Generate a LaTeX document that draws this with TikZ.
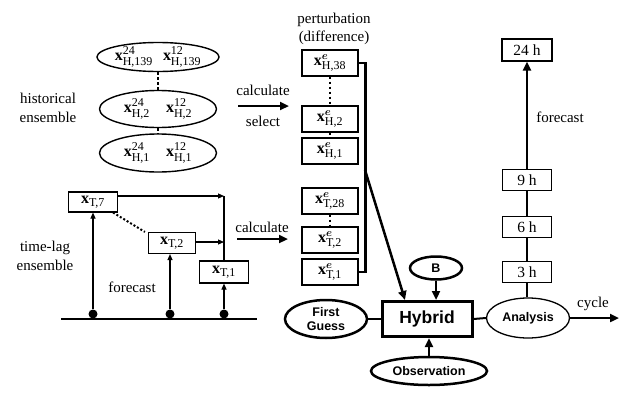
\documentclass[tikz,border=0pt]{standalone}
\usepackage{amsmath,bm}
\usepackage{fontspec}
\setmainfont{Liberation Serif}
\newfontfamily\arialfont{Liberation Sans}
\usetikzlibrary{arrows.meta,shapes.geometric}
\newcommand{\subtx}[1]{\text{\fontsize{12}{12}\selectfont #1}}
\begin{document}
\begin{tikzpicture}[x=1pt,y=-1pt,
  lbl/.style={font=\fontsize{15}{18.5}\selectfont, align=center, inner sep=0pt},
  tbox/.style={draw, line width=1.1pt, minimum width=49pt, minimum height=21pt, inner sep=0pt, font=\fontsize{16}{18}\selectfont},
  pbox/.style={draw, line width=1.1pt, minimum width=56pt, minimum height=26pt, inner sep=0pt, font=\fontsize{16}{18}\selectfont},
  fbox/.style={draw, line width=1.1pt, minimum width=49pt, minimum height=21pt, inner sep=0pt, font=\fontsize{15.5}{17}\selectfont},
  hell/.style={ellipse, draw, line width=1.4pt, minimum width=117pt, inner sep=0pt, font=\fontsize{16}{18}\selectfont},
  sell/.style={ellipse, draw, line width=2.5pt, inner sep=0pt, font=\arialfont\bfseries\fontsize{12.5}{15}\selectfont, align=center},
  dotline/.style={line width=2.5pt, dash pattern=on 2.5pt off 2.5pt},
  bigarrow/.style={line width=2.5pt, -{Triangle[length=9pt,width=8pt]}},
  thinarrow/.style={line width=1.1pt, -{Triangle[length=6pt,width=5pt]}},
  gdot/.style={circle, fill, minimum size=9pt, inner sep=0pt}
]
\fill[white] (0,0) rectangle (630,394);
\useasboundingbox (0,0) rectangle (630,394);

% historical ensemble
\node[hell, minimum height=29pt] (h139) at (158,57) {$\mathbf{x}^{\subtx{24}}_{\subtx{H,139}}\hspace{10pt}\mathbf{x}^{\subtx{12}}_{\subtx{H,139}}$};
\node[hell, minimum height=37pt] (h2) at (158,109) {$\mathbf{x}^{\subtx{24}}_{\subtx{H,2}}\hspace{16pt}\mathbf{x}^{\subtx{12}}_{\subtx{H,2}}$};
\node[hell, minimum height=38pt] (h1) at (158,153) {$\mathbf{x}^{\subtx{24}}_{\subtx{H,1}}\hspace{16pt}\mathbf{x}^{\subtx{12}}_{\subtx{H,1}}$};
\draw[dotline] (h139.south) -- (h2.north);
\draw[dotline] (h2.south) -- (h1.north);
\node[lbl] (histlbl) at (48,108) {historical\\ensemble};

\node[lbl] (calc1) at (263,90) {calculate};
\node[lbl] (sel) at (263,121) {select};
\coordinate (c1a) at (238,106);
\coordinate (c1b) at (289,106);
\draw[bigarrow] (c1a) -- (c1b);

% perturbation column
\node[lbl] (pertlbl) at (334,29) {perturbation\\(difference)};
\node[pbox] (H38) at (330,63) {$\mathbf{x}^{\bm{e}}_{\subtx{H,38}}$};
\node[pbox] (H2) at (330,119) {$\mathbf{x}^{\bm{e}}_{\subtx{H,2}}$};
\node[pbox] (H1) at (330,151) {$\mathbf{x}^{\bm{e}}_{\subtx{H,1}}$};
\node[pbox] (T28) at (330,201) {$\mathbf{x}^{\bm{e}}_{\subtx{T,28}}$};
\node[pbox] (T2e) at (330,240) {$\mathbf{x}^{\bm{e}}_{\subtx{T,2}}$};
\node[pbox] (T1e) at (330,272) {$\mathbf{x}^{\bm{e}}_{\subtx{T,1}}$};
\draw[dotline] (H38.south) -- (H2.north);
\draw[dotline] (H2.south) -- (H1.north);
\draw[dotline] (T28.south) -- (T2e.north);
\draw[line width=2.5pt] (H38.east) -- ++(7,0) |- (T1e.east);

% time-lag ensemble
\node[tbox, minimum height=20pt] (T7) at (93,202) {$\mathbf{x}_{\subtx{T,7}}$};
\node[tbox, minimum width=47pt] (T2) at (172,243) {$\mathbf{x}_{\subtx{T,2}}$};
\node[tbox, minimum height=22pt] (T1) at (224,272) {$\mathbf{x}_{\subtx{T,1}}$};
\coordinate (vtop) at (224,196);
\coordinate (vmid) at (224,242);
\draw[line width=1.1pt] (vtop) -- (T1.north);
\draw[thinarrow] ([yshift=6pt]T7.east) -- (vtop);
\draw[thinarrow] ([yshift=1pt]T2.east) -- (vmid);
\draw[line width=2pt, dash pattern=on 2pt off 2pt] ([xshift=-5pt]T7.south east) -- ([xshift=-3pt]T2.north west);
\coordinate (g1) at (61,319);
\coordinate (g2) at (257,319);
\draw[line width=1.3pt] (g1) -- (g2);
\node[gdot] (d1) at (93,314) {};
\node[gdot] (d2) at (170,314) {};
\node[gdot] (d3) at (224,314) {};
\draw[thinarrow] (d1) -- (d1 |- T7.south);
\draw[thinarrow] (d2) -- (d2 |- T2.south);
\draw[thinarrow] (d3) -- (d3 |- T1.south);
\node[lbl] (tllbl) at (45,256) {time-lag\\ensemble};
\node[lbl] (fclbl1) at (132,287) {forecast};
\node[lbl] (calc2) at (262,227) {calculate};
\coordinate (c2a) at (237,239);
\coordinate (c2b) at (288,239);
\draw[bigarrow] (c2a) -- (c2b);

% hybrid system
\node[draw, line width=3pt, minimum width=90pt, minimum height=35pt, inner sep=0pt, font=\arialfont\bfseries\fontsize{17.5}{20}\selectfont] (hyb) at (427,319) {Hybrid};
\node[sell, minimum width=82pt, minimum height=38pt] (fg) at (326,319) {First\\[-1pt]Guess};
\node[ellipse, draw, line width=1.3pt, minimum width=83pt, minimum height=40pt, inner sep=0pt, font=\arialfont\bfseries\fontsize{12.5}{15}\selectfont] (an) at (528,318) {Analysis};
\node[sell, minimum width=116pt, minimum height=28pt] (obs) at (429,371) {Observation};
\node[sell, minimum width=52pt, minimum height=23pt] (B) at (436,268) {B};
\draw[line width=2pt] (fg.east) -- (hyb.west);
\draw[line width=2pt] (hyb.east) -- (an.west);
\draw[bigarrow] (B.south) -- (B.south |- hyb.north);
\draw[bigarrow] (obs.north) -- (obs.north |- hyb.south);
\coordinate (dstart) at (365,170);
\draw[bigarrow] (dstart) -- ([xshift=-22pt]hyb.north);
\coordinate (cyc) at (619,318);
\draw[bigarrow] (an.east) -- (cyc);
\node[lbl] (cyclbl) at (593,304) {cycle};

% forecast column
\node[fbox] (f3) at (527,272) {3 h};
\node[fbox] (f6) at (527,227) {6 h};
\node[fbox] (f9) at (527,180) {9 h};
\node[fbox, minimum width=50pt, minimum height=22pt] (f24) at (527,50) {24 h};
\draw[line width=2.5pt] (f3.south |- an.north) -- (f3.south);
\draw[line width=2.5pt] (f3.north) -- (f6.south);
\draw[line width=2.5pt] (f6.north) -- (f9.south);
\draw[bigarrow] (f9.north) -- (f24.south);
\node[lbl] (fclbl2) at (560,117) {forecast};
\end{tikzpicture}
\end{document}
